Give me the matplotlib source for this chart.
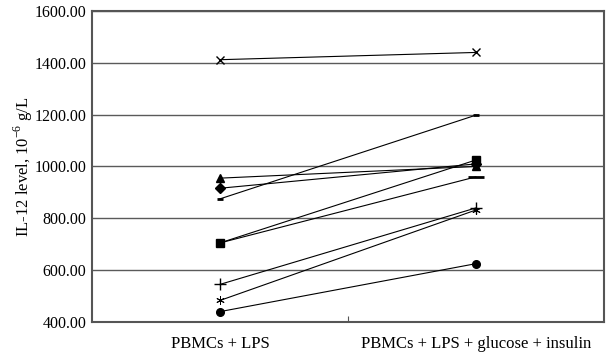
import matplotlib.pyplot as plt

plt.rcParams['font.family'] = ['Liberation Serif', 'DejaVu Serif']
plt.rcParams['mathtext.fontset'] = 'custom'
plt.rcParams['mathtext.rm'] = 'Liberation Serif'

categories = ['PBMCs + LPS', 'PBMCs + LPS + glucose + insulin']
x_pos = [0.5, 1.5]

# IL-12 level per donor: (before, after)
donor_x = [1412, 1440]
donor_tri = [955, 1000]
donor_diamond = [916, 1010]
donor_dash = [875, 1198]
donor_square = [705, 1025]
donor_longdash = [705, 960]
donor_plus = [545, 840]
donor_star = [483, 832]
donor_circle = [440, 625]

yticks = [400, 600, 800, 1000, 1200, 1400, 1600]

fig = plt.figure(figsize=(6.13, 3.54), dpi=100)
ax = fig.add_axes([0.150, 0.0904, 0.835, 0.8786])

asterisk = (6, 2, 0)
series = [
    (donor_longdash, dict(marker='_', markersize=11, markeredgewidth=2, markevery=[1])),
    (donor_square, dict(marker='s', markersize=6)),
    (donor_diamond, dict(marker='D', markersize=5.5)),
    (donor_tri, dict(marker='^', markersize=6)),
    (donor_x, dict(marker='x', markersize=6, markeredgewidth=1)),
    (donor_dash, dict(marker='_', markersize=5, markeredgewidth=2)),
    (donor_plus, dict(marker='+', markersize=8, markeredgewidth=1)),
    (donor_star, dict(marker=asterisk, markersize=6, markeredgewidth=0.7)),
    (donor_circle, dict(marker='o', markersize=5.5)),
]
for vals, style in series:
    ax.plot(x_pos, vals, color='black', linewidth=0.8, **style)

ax.set_xlim(0, 2)
ax.set_ylim(400, 1600)
ax.set_yticks(yticks)
ax.set_yticklabels([f'{v:.2f}' for v in yticks])
ax.yaxis.grid(True, color='#5a5a5a', linewidth=1.0)
ax.set_axisbelow(True)
ax.tick_params(axis='y', length=0, labelsize=11.5, pad=4)

ax.set_xticks([1])
ax.set_xticklabels([''])
ax.tick_params(axis='x', direction='in', length=4, color='#555555')
for xp, label in zip(x_pos, categories):
    ax.text(xp, -0.045, label, transform=ax.get_xaxis_transform(),
            ha='center', va='top', fontsize=12)

for s in ax.spines.values():
    s.set_color('#555555')
    s.set_linewidth(1.5)

ax.set_ylabel('IL-12 level, 10$^{-6}$ g/L', fontsize=12, labelpad=0)

fig.savefig('out.png', dpi=100)
